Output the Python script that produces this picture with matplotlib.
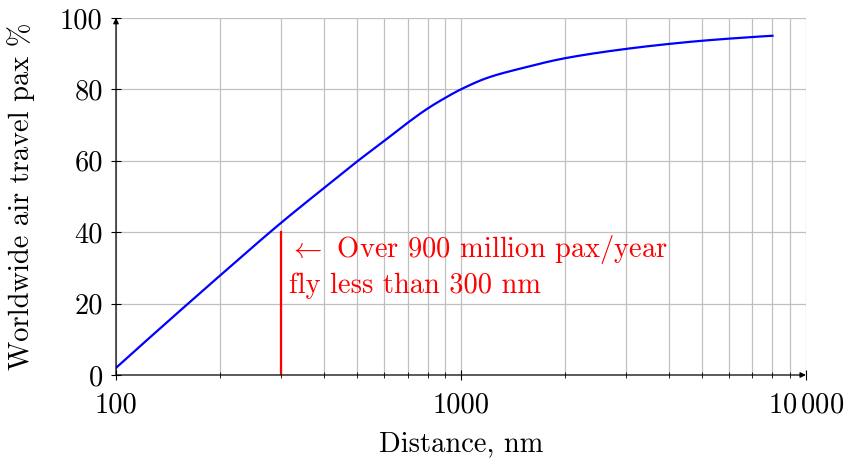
import numpy as np
import matplotlib
matplotlib.use("Agg")
import matplotlib.pyplot as plt
from matplotlib.ticker import FixedLocator, NullFormatter

plt.rcParams['font.family'] = 'serif'
plt.rcParams['font.serif'] = ['cmr10', 'DejaVu Serif']
plt.rcParams['mathtext.fontset'] = 'cm'
plt.rcParams['axes.unicode_minus'] = False

# distance (nm) vs cumulative share of pax (%)
distance = [100, 200, 300, 400, 500, 600, 700, 800, 900, 1000,
            1200, 1500, 2000, 3000, 4000, 5000, 6000, 8000]
pax_share = [2, 27.8, 42.5, 52.3, 59.8, 65.6, 70.6, 74.6, 77.6, 80.0,
             83.3, 85.9, 88.7, 91.3, 92.7, 93.6, 94.2, 95.0]

marker_x = 300
marker_top = 40
note = "$\\leftarrow$ Over 900 million pax/year\nfly less than 300 nm"

major_x = [100, 1000, 10000]
major_x_labels = ["100", "1000", "$10\\,000$"]
minor_x = [200, 300, 400, 500, 600, 700, 800, 900,
           2000, 3000, 4000, 5000, 6000, 7000, 8000, 9000]
y_ticks = [0, 20, 40, 60, 80, 100]

fs = 20.5

fig = plt.figure(figsize=(8.51, 4.59), dpi=100)
ax = fig.add_axes([0.1363, 0.183, 0.8107, 0.778])

ax.set_xscale('log')
ax.set_xlim(100, 10000)
ax.set_ylim(0, 100)

# smooth the curve in log space
lx = np.log10(distance)
fine = np.linspace(lx[0], lx[-1], 400)
try:
    from scipy.interpolate import PchipInterpolator
    ys = PchipInterpolator(lx, pax_share)(fine)
except ImportError:
    ys = np.interp(fine, lx, pax_share)
ax.plot(10 ** fine, ys, color='blue', lw=1.6, zorder=3)

ax.plot([marker_x, marker_x], [0, marker_top], color='red', lw=1.6, zorder=3)
ax.text(318, 30.5, note, color='red', fontsize=fs, ha='left', va='center',
        linespacing=1.3)

ax.xaxis.set_major_locator(FixedLocator(major_x))
ax.set_xticklabels(major_x_labels)
ax.xaxis.set_minor_locator(FixedLocator(minor_x))
ax.xaxis.set_minor_formatter(NullFormatter())
ax.set_yticks(y_ticks)

ax.grid(True, which='both', axis='x', color='#c0c0c0', lw=0.9)
ax.grid(True, which='major', axis='y', color='#c0c0c0', lw=0.9)
ax.set_axisbelow(True)

for s in ['top', 'right', 'left', 'bottom']:
    ax.spines[s].set_visible(False)

ax.tick_params(which='major', direction='inout', length=7, width=0.8,
               labelsize=fs)
ax.tick_params(which='minor', direction='inout', length=5, width=0.6)
ax.tick_params(axis='y', which='both', right=False, pad=6)
ax.tick_params(axis='x', which='both', top=False, pad=9)

# axis lines with arrow tips
ax.annotate('', xy=(1.0, 0), xytext=(0, 0), xycoords='axes fraction',
            arrowprops=dict(arrowstyle='-|>', color='black', lw=0.9,
                            mutation_scale=8, shrinkA=0, shrinkB=0))
ax.annotate('', xy=(0, 1.0), xytext=(0, 0), xycoords='axes fraction',
            arrowprops=dict(arrowstyle='-|>', color='black', lw=0.9,
                            mutation_scale=8, shrinkA=0, shrinkB=0))

ax.set_xlabel('Distance, nm', fontsize=fs, labelpad=9)
ax.set_ylabel('Worldwide air travel pax %', fontsize=fs, labelpad=18)

fig.savefig('out.png', dpi=100)
